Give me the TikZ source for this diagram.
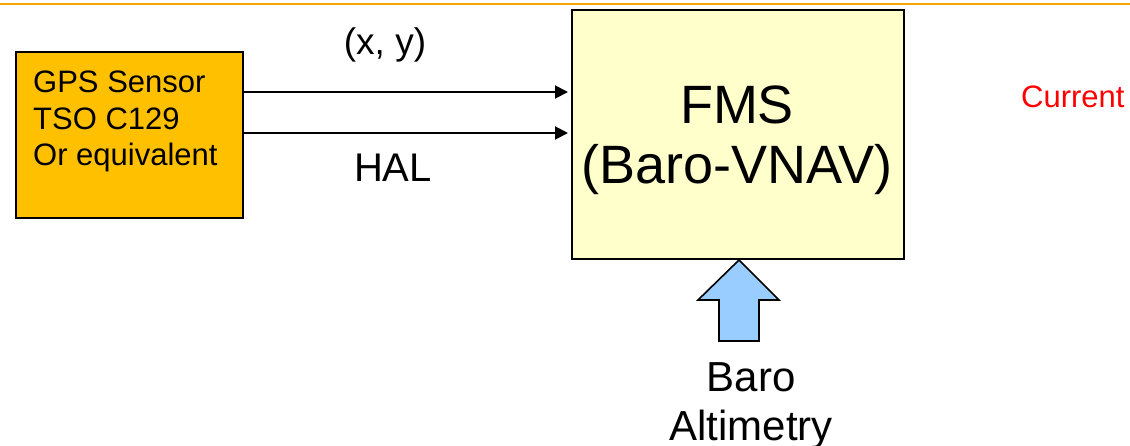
\documentclass[tikz,border=0pt]{standalone}
\usepackage{fontspec}
\setmainfont{Liberation Sans}
\usetikzlibrary{arrows.meta}
\definecolor{topline}{RGB}{245,166,0}
\definecolor{gpsfill}{RGB}{255,192,0}
\definecolor{fmsfill}{RGB}{255,255,204}
\definecolor{barofill}{RGB}{153,204,255}
\definecolor{curred}{RGB}{255,0,0}
\tikzset{
  gpsbox/.style={draw=black, line width=2pt, fill=gpsfill, inner sep=0pt, anchor=north west},
  fmsbox/.style={draw=black, line width=2pt, fill=fmsfill, inner sep=0pt, anchor=north west},
  conn/.style={line width=2pt, -{Triangle[length=13pt,width=13pt]}, shorten >=3pt},
  blockarrow/.style={draw=black, line width=1.6pt, fill=barofill, line join=miter},
  lbl/.style={inner sep=0pt, text=black},
}
\begin{document}
\begin{tikzpicture}[x=1pt,y=-1pt]
\useasboundingbox (0,0) rectangle (1130,445);
\fill[white] (0,0) rectangle (1130,445);
% top rule
\draw[topline, line width=2.6pt] (0,3.8) -- (1130,3.8);
% boxes
\node[gpsbox, minimum width=227pt, minimum height=166pt] (gps) at (15,51) {};
\node[fmsbox, minimum width=332pt, minimum height=249pt] (fms) at (571,9) {};
% GPS text
\node[lbl, anchor=north west, align=left, font=\fontsize{31}{36.5}\selectfont] (gpstext) at (33,71)
  {GPS Sensor\\TSO C129\\Or equivalent};
% FMS text
\node[lbl, anchor=north, align=center, font=\fontsize{54}{60}\selectfont] (fmstext) at (737,86)
  {FMS\\(Baro-VNAV)};
% connectors
\coordinate (ya) at (0,92);
\coordinate (yb) at (0,133);
\draw[conn] (gps.east |- ya) -- (fms.west |- ya);
\draw[conn] (gps.east |- yb) -- (fms.west |- yb);
\node[lbl, anchor=base, font=\fontsize{37}{40}\selectfont] (xy) at (385,54) {(x, y)};
\node[lbl, anchor=base, font=\fontsize{40}{44}\selectfont] (hal) at (393,181) {HAL};
% baro block arrow
\coordinate (tip) at (fms.south -| 739,0);
\draw[blockarrow] (tip) -- (779,300) -- (759,300) -- (759,341) -- (719,341) -- (719,300) -- (698,300) -- cycle;
\node[lbl, anchor=north, align=center, font=\fontsize{42}{49}\selectfont] (baro) at (751,362)
  {Baro\\Altimetry};
% current label
\node[lbl, anchor=base west, text=curred, font=\fontsize{31}{34}\selectfont] (cur) at (1021,107) {Current};
\end{tikzpicture}
\end{document}
